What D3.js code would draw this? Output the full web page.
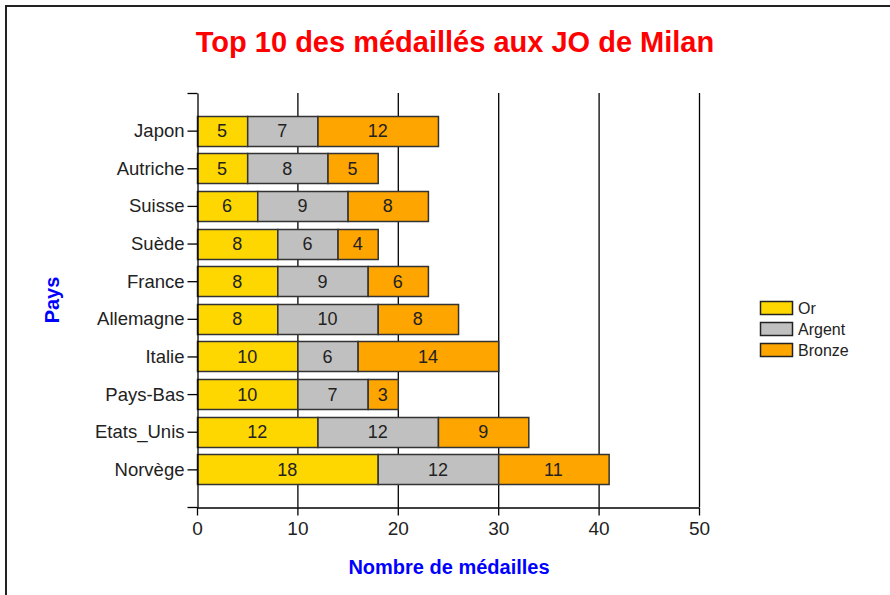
<!doctype html>
<html>
  <head>
    <meta charset="utf-8">
    <title>Top 10 des médaillés</title>
    <style>
      * { margin: 0; padding: 0; }
      body { background: #fff; }
      text { font-family: Arial, "Liberation Sans", sans-serif; }
    </style>
    <script src="https://cdnjs.cloudflare.com/ajax/libs/d3/7.8.5/d3.min.js"></script>
  </head>
  <body>
    <script>
      // data, top to bottom as shown
      var pays = ["Japon", "Autriche", "Suisse", "Suède", "France", "Allemagne", "Italie", "Pays-Bas", "Etats_Unis", "Norvège"];
      var or = [5, 5, 6, 8, 8, 8, 10, 10, 12, 18];
      var argent = [7, 8, 9, 6, 9, 10, 6, 7, 12, 12];
      var bronze = [12, 5, 8, 4, 6, 8, 14, 3, 9, 11];
      var seriesNames = ["Or", "Argent", "Bronze"];
      var seriesColors = ["#FFD700", "#C0C0C0", "#FFA500"];
      var xTicks = [0, 10, 20, 30, 40, 50];

      var drawChart = function() {
        var width = 890, height = 595;
        var pLeft = 197, pRight = 699, pTop = 93, pBottom = 507;
        var font = "Arial, 'Liberation Sans', sans-serif";

        var svg = d3.select("body").append("svg")
            .attr("width", width)
            .attr("height", height);

        // outer frame (left + top only visible)
        svg.append("path")
            .attr("d", "M6,595 V6 H890")
            .attr("fill", "none")
            .attr("stroke", "#222")
            .attr("stroke-width", 2);

        var x = d3.scaleLinear().domain([0, 50]).range([pLeft, pRight]);
        // categories sit at 1..10, bottom is 0, top is 11
        var y = d3.scaleLinear().domain([0, pays.length + 1]).range([pBottom, pTop]);
        var pos = function(i) { return y(pays.length - i); };
        var bandH = Math.abs(y(1) - y(0));
        var barH = Math.round(bandH * 0.8);

        // gridlines
        svg.append("g").selectAll("line")
            .data(xTicks.slice(1))
            .enter().append("line")
            .attr("x1", function(d) { return x(d) + 0.5; })
            .attr("x2", function(d) { return x(d) + 0.5; })
            .attr("y1", pTop)
            .attr("y2", pBottom)
            .attr("stroke", "#000")
            .attr("stroke-width", 1.3);

        // stacked segments
        var segs = [];
        pays.forEach(function(p, i) {
          var vals = [or[i], argent[i], bronze[i]];
          var acc = 0;
          vals.forEach(function(v, k) {
            segs.push({ i: i, k: k, x0: acc, x1: acc + v, v: v });
            acc += v;
          });
        });

        var g = svg.append("g");
        g.selectAll("rect")
            .data(segs)
            .enter().append("rect")
            .attr("x", function(d) { return x(d.x0) + 0.5; })
            .attr("y", function(d) { return Math.round(pos(d.i) - barH / 2) + 0.5; })
            .attr("width", function(d) { return x(d.x1) - x(d.x0); })
            .attr("height", barH)
            .attr("fill", function(d) { return seriesColors[d.k]; })
            .attr("stroke", "#333")
            .attr("stroke-width", 1.5);

        g.selectAll("text")
            .data(segs)
            .enter().append("text")
            .attr("x", function(d) { return (x(d.x0) + x(d.x1)) / 2; })
            .attr("y", function(d) { return pos(d.i) + 6.5; })
            .attr("text-anchor", "middle")
            .attr("font-size", "18px")
            .attr("fill", "#222")
            .text(function(d) { return d.v; });

        // axes
        var xAxis = svg.append("g")
            .attr("transform", "translate(0," + (pBottom + 0.5) + ")")
            .call(d3.axisBottom(x).tickValues(xTicks).tickSize(8).tickSizeOuter(0));
        xAxis.selectAll("text")
            .attr("font-size", "19px").attr("fill", "#222").attr("y", 14).attr("dy", "0.71em")
            .style("font-family", font);

        var yTickVals = d3.range(0, pays.length + 2);
        var yAxis = svg.append("g")
            .attr("transform", "translate(" + (pLeft + 0.5) + ",0)")
            .call(d3.axisLeft(y).tickValues(yTickVals).tickSize(10).tickSizeOuter(0)
              .tickFormat(function(d) { return (d >= 1 && d <= pays.length) ? pays[pays.length - d] : ""; }));
        yAxis.selectAll("text")
            .attr("font-size", "18.5px").attr("fill", "#222").attr("x", -13)
            .style("font-family", font);
        svg.selectAll(".domain").attr("stroke", "#000").attr("stroke-width", 1.3);
        svg.selectAll(".tick line").attr("stroke", "#000").attr("stroke-width", 1.3);

        // titles
        svg.append("text")
            .attr("x", 455)
            .attr("y", 52)
            .attr("text-anchor", "middle")
            .attr("font-size", "29px")
            .attr("font-weight", "bold")
            .attr("fill", "#FF0000")
            .text("Top 10 des médaillés aux JO de Milan");

        svg.append("text")
            .attr("x", 449)
            .attr("y", 574)
            .attr("text-anchor", "middle")
            .attr("font-size", "20px")
            .attr("font-weight", "bold")
            .attr("fill", "#0000FF")
            .text("Nombre de médailles");

        svg.append("text")
            .attr("transform", "translate(59,300) rotate(-90)")
            .attr("text-anchor", "middle")
            .attr("font-size", "20px")
            .attr("font-weight", "bold")
            .attr("fill", "#0000FF")
            .text("Pays");

        // legend
        var legend = svg.append("g").attr("transform", "translate(760,301)");
        var li = legend.selectAll("g")
            .data(seriesNames)
            .enter().append("g")
            .attr("transform", function(d, i) { return "translate(0," + (i * 21) + ")"; });
        li.append("rect")
            .attr("x", 0.5).attr("y", 0.5)
            .attr("width", 32).attr("height", 13)
            .attr("fill", function(d, i) { return seriesColors[i]; })
            .attr("stroke", "#222")
            .attr("stroke-width", 1.5);
        li.append("text")
            .attr("x", 38)
            .attr("y", 13)
            .attr("font-size", "16px")
            .attr("fill", "#222")
            .text(function(d) { return d; });
      };

      drawChart();
    </script>
  </body>
</html>
